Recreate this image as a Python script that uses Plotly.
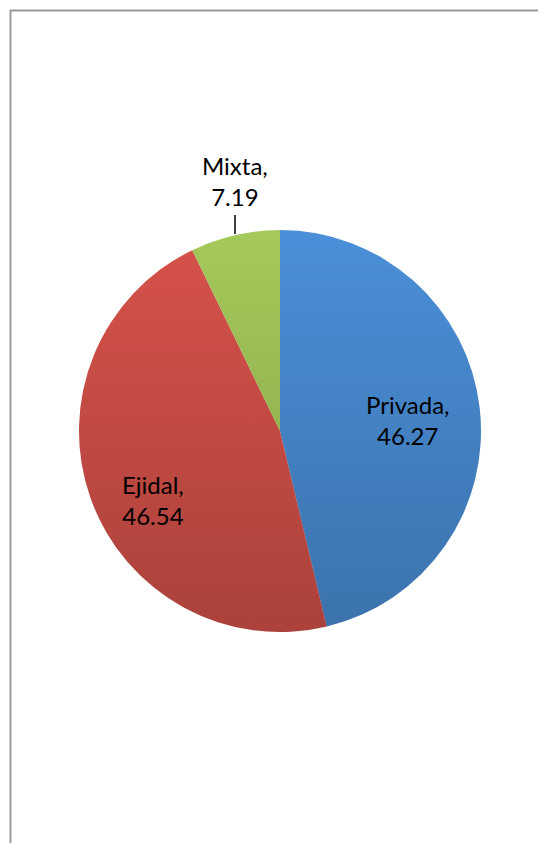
import math
import base64
import plotly.graph_objects as go

labels = ["Privada", "Ejidal", "Mixta"]
values = [46.27, 46.54, 7.19]
colors = ["#4a8fd8", "#d6524a", "#a5c95a"]
label_pos = ["inside", "inside", "outside"]

W, H = 538, 843
cx, cy, r = 280, 431, 201
dom_x = [(cx - r) / W, (cx + r) / W]
dom_y = [1 - (cy + r) / H, 1 - (cy - r) / H]
FONT = "Lato, 'Open Sans', sans-serif"
# inside-label placement tweaks: (radial fraction, angle shift in degrees)
inside_place = {"Privada": (0.64, 2.0), "Ejidal": (0.72, -9.0)}

fig = go.Figure()
fig.add_trace(go.Pie(
    labels=labels, values=values, sort=False, direction="clockwise", rotation=0,
    marker=dict(colors=colors, line=dict(width=0)),
    textinfo="none",
    domain=dict(x=dom_x, y=dom_y),
    showlegend=False, hoverinfo="label+value",
))

# gradient overlay (light top -> darker bottom), clipped to the pie circle
svg = (
    '<svg xmlns="http://www.w3.org/2000/svg" width="400" height="400" viewBox="0 0 400 400">'
    '<defs><linearGradient id="g" x1="0" y1="0" x2="0" y2="1">'
    '<stop offset="0" stop-color="#000" stop-opacity="0"/>'
    '<stop offset="1" stop-color="#000" stop-opacity="0.2"/>'
    '</linearGradient></defs>'
    '<circle cx="200" cy="200" r="200" fill="url(#g)"/></svg>'
)
src = "data:image/svg+xml;base64," + base64.b64encode(svg.encode()).decode()
fig.add_layout_image(dict(
    source=src, xref="paper", yref="paper", x=dom_x[0], y=dom_y[1],
    sizex=dom_x[1] - dom_x[0], sizey=dom_y[1] - dom_y[0],
    xanchor="left", yanchor="top", sizing="stretch", layer="above", opacity=1,
))

# data labels, placed at each slice's mid-angle
total = sum(values)
cum = 0.0
for lab, val, pos in zip(labels, values, label_pos):
    mid = 2 * math.pi * (cum + val / 2) / total
    cum += val
    text = f"{lab},<br>{val:.2f}"
    if pos == "inside":
        frac, shift = inside_place[lab]
        ang = mid + math.radians(shift)
        rr = frac * r
        px = cx + rr * math.sin(ang)
        py = cy - rr * math.cos(ang)
        fig.add_annotation(x=px / W, y=1 - py / H, xref="paper", yref="paper",
                           text=text, showarrow=False, xanchor="center", yanchor="middle",
                           font=dict(family=FONT, size=24, color="#000000"))
    else:
        lx = cx + r * math.sin(mid)
        ly0 = cy - r * math.cos(mid)
        fig.add_shape(type="line", xref="paper", yref="paper",
                      x0=lx / W, x1=lx / W, y0=1 - (ly0 - 1) / H, y1=1 - (ly0 - 20) / H,
                      line=dict(color="#000000", width=1.5))
        fig.add_annotation(x=lx / W, y=1 - (ly0 - 22) / H, xref="paper", yref="paper",
                           text=text, showarrow=False, xanchor="center", yanchor="bottom",
                           font=dict(family=FONT, size=24, color="#000000"))

# chart frame (left and top border)
for x0, y0, x1, y1 in [(10.5, 10, 10.5, H + 10), (10, 10.5, W + 10, 10.5)]:
    fig.add_shape(type="line", xref="paper", yref="paper",
                  x0=x0 / W, x1=x1 / W, y0=1 - y0 / H, y1=1 - y1 / H,
                  line=dict(color="#9a9a9a", width=2))

fig.update_layout(
    width=W, height=H, margin=dict(l=0, r=0, t=0, b=0),
    paper_bgcolor="white", plot_bgcolor="white",
)
fig.write_html("out.html", config={"displayModeBar": False},
               post_script="document.body.style.margin='0';document.body.style.overflow='hidden';")
